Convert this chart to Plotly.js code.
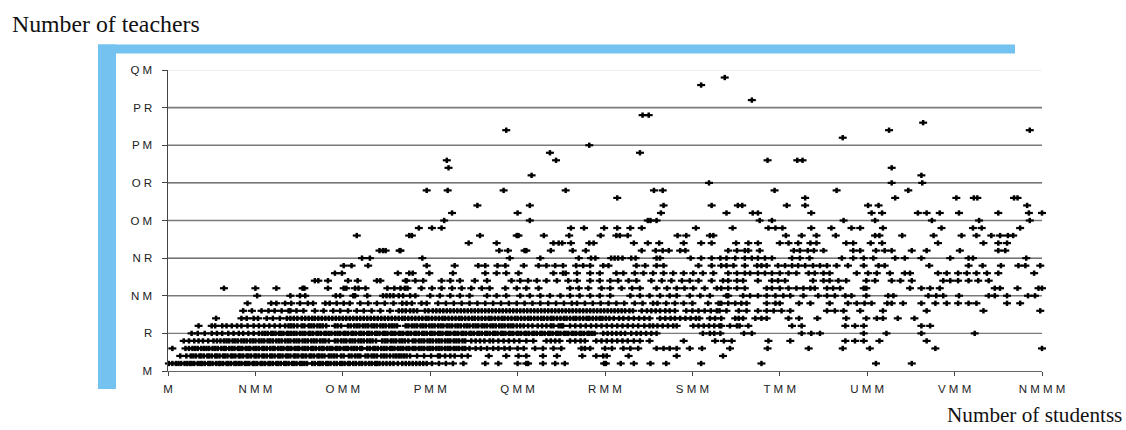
<!DOCTYPE html>
<html><head><meta charset="utf-8">
<script src="https://cdn.plot.ly/plotly-3.0.1.min.js"></script>
<style>html,body{margin:0;padding:0;background:#fff}#c{width:1126px;height:430px}</style>
</head><body><div id="c"></div>
<script>
// tick labels as they appear in the picture
const xTickValues=[0,100,200,300,400,500,600,700,800,900,1000];
const xTickLabels=["M","N M M","O M M","P M M","Q M M","R M M","S M M","T M M","U M M","V M M","N M M M"];
const yTickValues=[0,5,10,15,20,25,30,35,40];
const yTickLabels=["M","R","N M","N R","O M","O R","P M","P R","Q M"];
const xName="Number of studentss";
const yName="Number of teachers";
// number of students of each school, one list per number of teachers
const t1=[1,5,9,12,15,19,22,25,27,30,34,37,39,42,46,48,51,55,58,60,63,67,69,72,76,78,81,84,88,90,93,97,99,102,106,108,111,115,117,120,124,126,129,133,135,138,142,144,147,151,153,156,159,165,168,172,174,177,181,183,186,190,193,197,199,202,206,208,212,215,219,222,226,230,233,237,239,242,246,250,254,258,263,268,272,276,280,284,288,292,296,302,310,318,326,338,363,378,400,410,412,429,443,454,499,501,518,533,552,570,610,679,810,851];
const t2=[14,21,26,29,32,36,38,41,45,47,50,54,56,59,63,65,68,72,74,77,81,83,86,90,92,95,99,101,104,108,110,113,117,119,122,126,128,131,135,137,140,144,146,149,153,155,158,162,164,167,171,173,176,179,184,187,190,193,198,201,207,210,214,217,220,226,229,233,236,239,244,247,250,254,258,261,264,267,270,273,277,285,293,301,309,311,317,323,328,336,343,367,387,401,410,429,445,474,490,498,502,527,582,635];
const t3=[5,20,24,28,31,34,38,41,44,47,51,54,57,61,64,66,70,73,76,80,82,85,89,92,94,98,101,104,108,110,113,117,120,122,126,129,132,136,138,141,145,148,150,154,157,160,164,166,169,173,176,178,182,185,188,192,194,197,201,204,206,210,213,216,220,222,228,231,235,237,240,244,247,250,254,256,259,263,266,269,273,276,280,283,287,290,293,297,300,303,307,310,313,317,320,323,327,330,333,337,340,345,352,358,365,372,378,385,391,400,407,420,429,441,450,473,477,483,500,508,521,529,538,559,567,574,582,597,611,643,686,733,772,803,878,1000];
const t4=[18,24,30,35,40,46,52,56,60,64,67,70,74,77,80,84,87,90,94,97,100,104,107,110,114,117,120,124,127,130,134,137,140,144,147,150,154,157,160,164,167,170,174,177,180,184,191,194,198,201,204,208,211,214,218,221,224,228,231,234,238,245,248,251,255,258,261,265,268,271,275,280,283,287,290,293,297,300,303,307,310,313,317,320,323,327,330,333,337,340,347,352,357,362,368,372,378,384,390,396,402,410,418,433,438,443,448,460,466,472,477,490,496,502,508,514,520,526,533,540,551,590,626,636,645,687,712,775,786,796,814,868];
const t5=[27,34,42,50,56,62,69,75,81,86,92,98,104,108,111,114,118,120,123,127,129,132,136,138,141,144,147,151,154,157,161,163,166,170,172,175,179,181,184,187,191,194,197,201,203,206,210,212,215,219,221,224,228,230,233,237,239,242,246,248,251,255,257,260,264,266,269,273,275,278,282,284,287,291,293,296,300,302,305,309,311,314,318,320,323,327,329,332,336,338,341,345,347,350,354,356,359,363,365,368,372,374,377,381,383,386,390,392,395,399,401,404,408,410,413,417,419,422,426,428,431,435,437,440,444,446,449,453,455,458,462,464,467,471,473,476,480,482,485,488,498,503,508,513,518,523,530,536,541,547,553,559,612,620,625,632,659,668,725,736,746,796,822,862,923];
const t6=[35,50,54,62,67,73,79,84,91,98,104,110,116,122,128,134,138,141,144,148,153,156,161,164,167,171,174,177,181,191,194,198,206,209,213,216,219,223,226,229,233,236,239,243,246,249,253,256,259,262,272,275,279,282,285,289,292,295,299,302,305,309,312,315,319,322,325,329,332,335,339,342,345,349,352,355,359,362,365,369,372,375,379,382,385,389,392,395,399,403,407,412,417,423,428,433,438,441,447,450,452,460,466,472,478,484,490,496,502,508,514,520,526,532,538,545,551,555,560,566,572,578,582,601,607,613,619,625,631,633,643,651,654,664,714,725,775,786,796,862,872];
const t7=[55,84,90,98,103,113,120,128,136,140,144,148,153,157,161,165,168,172,176,180,184,188,192,196,200,204,208,212,216,220,224,228,232,236,240,244,248,252,256,260,264,268,271,275,279,283,287,291,295,298,302,306,310,314,317,321,325,329,333,336,340,344,348,351,355,359,363,367,370,374,378,382,385,389,393,397,400,404,408,412,415,419,423,427,430,434,438,441,445,449,453,456,460,464,467,471,475,479,482,486,490,494,497,501,505,510,516,521,527,533,539,545,551,563,569,575,580,586,592,598,604,608,620,626,633,649,653,658,672,679,685,710,722,743,776,799,811,818,835,854];
const t8=[86,96,107,115,122,130,138,140,147,155,168,178,189,197,206,216,224,233,243,254,264,268,272,277,281,285,294,298,303,307,311,315,319,323,327,331,335,339,343,347,351,355,359,363,367,371,375,379,383,387,391,395,399,403,407,411,415,419,423,427,431,435,439,443,447,451,455,459,463,467,471,475,479,483,487,491,495,499,503,507,511,515,519,523,528,532,542,548,553,558,563,569,574,580,593,600,607,614,621,628,631,639,653,662,675,685,693,702,712,754,763,773,792,818,868,933,998];
const t9=[91,118,124,134,141,151,160,166,180,185,193,201,208,220,229,239,248,258,268,273,279,290,296,309,318,327,336,345,354,363,372,381,390,399,408,417,426,435,444,453,462,468,477,486,495,504,513,522,534,543,555,560,570,580,590,600,618,630,633,641,649,656,662,685,695,700,722,735,757,778,788,797,805,823,828,841,862,878,891,904,916,925,960,975];
const t10=[102,140,151,157,192,197,212,214,228,246,250,254,258,264,269,277,283,300,311,323,334,345,365,376,387,403,414,426,437,449,460,471,483,494,506,529,540,551,563,574,582,597,609,620,639,641,658,666,675,685,695,704,712,727,744,754,763,775,782,799,824,830,870,879,887,905,939,946,960,984,992];
const t11=[64,100,124,154,156,183,201,204,214,218,226,251,259,266,271,274,290,302,313,325,336,347,359,368,386,399,410,424,460,470,481,496,506,519,531,540,559,571,582,591,601,614,628,633,641,651,660,685,691,700,710,719,727,735,740,754,761,769,796,799,849,862,872,883,946,952,972,996,1000];
const t12=[168,172,183,206,217,239,243,272,273,283,292,313,323,334,351,365,393,403,412,422,433,445,458,468,483,494,506,515,527,536,553,565,576,588,597,607,622,635,641,651,658,675,691,698,706,738,750,757,767,776,799,809,828,838,851,887,895,904,916,927,939];
const t13=[191,199,263,276,280,299,326,363,376,387,401,441,452,455,468,483,494,513,521,534,544,555,567,578,590,601,612,624,641,651,660,666,675,683,691,700,710,719,733,740,750,757,788,801,811,826,843,849,881,891,904,914,925,937,950,991];
const t14=[201,210,229,296,328,355,363,377,386,407,424,433,443,452,467,475,483,498,504,536,546,559,567,607,622,633,639,647,660,674,679,685,698,706,714,721,729,738,746,754,765,778,796,813,820,871,916,932,953,973,981,998];
const t15=[222,231,291,391,426,470,484,489,507,511,515,520,530,535,559,563,598,610,622,632,639,649,660,668,675,683,691,714,723,734,771,784,796,807,832,843,862,895,916,921,982];
const t16=[242,246,249,265,266,379,389,408,410,438,463,478,542,558,566,573,586,592,641,651,660,664,677,716,723,732,739,750,784,792,810,820,828,851,868,906,950,958];
const t17=[344,376,441,447,451,461,482,487,533,549,562,590,610,622,650,664,675,700,710,721,735,742,776,784,804,817,881,933,950,960];
const t18=[216,276,279,357,399,401,430,459,495,513,517,526,583,593,620,624,707,725,742,764,809,814,840,876,908,925,942,952,961,967];
const t19=[287,302,313,461,476,499,514,529,542,604,646,687,695,703,736,759,782,792,818,885,921,931,975];
const t20=[316,414,549,552,559,677,691,773,809,874,928,986];
const t21=[325,400,564,639,669,675,736,805,817,858,868,883,905,950,985,1000];
const t22=[354,414,567,622,652,657,708,729,801,813,983];
const t23=[514,729,832,902,922,926,968,972];
const t24=[296,320,384,455,556,566,694,765,847];
const t25=[619,828,863];
const t26=[416,862];
const t27=[321,828];
const t28=[319,444,686,720,726];
const t29=[437,540];
const t30=[482];
const t31=[772];
const t32=[387,825,986];
const t33=[864];
const t34=[543,550];
const t36=[668];
const t38=[610];
const t39=[637];
const rows=[[1,t1],[2,t2],[3,t3],[4,t4],[5,t5],[6,t6],[7,t7],[8,t8],[9,t9],[10,t10],[11,t11],[12,t12],[13,t13],[14,t14],[15,t15],[16,t16],[17,t17],[18,t18],[19,t19],[20,t20],[21,t21],[22,t22],[23,t23],[24,t24],[25,t25],[26,t26],[27,t27],[28,t28],[29,t29],[30,t30],[31,t31],[32,t32],[33,t33],[34,t34],[36,t36],[38,t38],[39,t39]];
const xs=[],ys=[];
rows.forEach(([n,list])=>list.forEach(v=>{xs.push(v);ys.push(n);}));

const W=1126,H=430,L=168,R=1042,T=69.5,B=371;
const px=x=>(x-L)/(R-L), py=y=>(B-y)/(B-T);
const blue='#74C2F0';
const gridStyle={0:null,5:['#7a7a7a',1.4],10:['#7a7a7a',1.4],15:['#222',1],20:['#7a7a7a',1.4],25:['#222',1],30:['#7a7a7a',1.6],35:['#7a7a7a',1.6],40:['#e4e4e4',1]};
const shapes=[
 {type:'rect',xref:'paper',yref:'paper',x0:px(98),x1:px(116),y0:py(389),y1:py(44),fillcolor:blue,line:{width:0},layer:'below'},
 {type:'rect',xref:'paper',yref:'paper',x0:px(98),x1:px(1015),y0:py(53),y1:py(44),fillcolor:blue,line:{width:0},layer:'below'}
];
yTickValues.forEach(v=>{const s=gridStyle[v];if(s)shapes.push({type:'line',xref:'x',yref:'y',x0:0,x1:1000,y0:v,y1:v,line:{color:s[0],width:s[1]},layer:'below'});});
const tickFont={family:'"Liberation Sans",Arial,sans-serif',size:11.5,color:'#222'};
const serifY={family:'"Liberation Serif","Times New Roman",serif',size:23.8,color:'#111'};
const serifX={family:'"Liberation Serif","Times New Roman",serif',size:21.2,color:'#111'};
const traces=[
 {type:'scatter',mode:'markers',x:xs,y:ys,hoverinfo:'x+y',cliponaxis:false,marker:{symbol:'line-ew',size:5.7,line:{color:'#000',width:2.2}}},
 {type:'scatter',mode:'markers',x:xs,y:ys,hoverinfo:'skip',cliponaxis:false,marker:{symbol:'line-ns',size:3.8,line:{color:'#000',width:2.5}}}
];
const layout={
 width:W,height:H,showlegend:false,paper_bgcolor:'#fff',plot_bgcolor:'rgba(0,0,0,0)',
 margin:{l:L,r:W-R,t:T,b:H-B,pad:0},
 xaxis:{range:[0,1000],tickmode:'array',tickvals:xTickValues,ticktext:xTickLabels,tickfont:tickFont,ticks:'outside',ticklen:4,tickcolor:'#444',tickwidth:1,showline:true,linecolor:'#666',linewidth:1.2,showgrid:false,zeroline:false,ticklabelstandoff:3},
 yaxis:{range:[0,40],tickmode:'array',tickvals:yTickValues,ticktext:yTickLabels,tickfont:tickFont,ticks:'outside',ticklen:5.5,tickcolor:'#444',tickwidth:1,showline:true,linecolor:'#444',linewidth:1,showgrid:false,zeroline:false,ticklabelstandoff:7},
 shapes:shapes,
 annotations:[
  {text:yName,xref:'paper',yref:'paper',x:px(9.5),y:py(38),xanchor:'left',yanchor:'bottom',showarrow:false,font:serifY},
  {text:xName,xref:'paper',yref:'paper',x:px(945),y:py(429.5),xanchor:'left',yanchor:'bottom',showarrow:false,font:serifX}
 ]
};
Plotly.newPlot('c',traces,layout,{displayModeBar:false,staticPlot:true});
</script></body></html>
